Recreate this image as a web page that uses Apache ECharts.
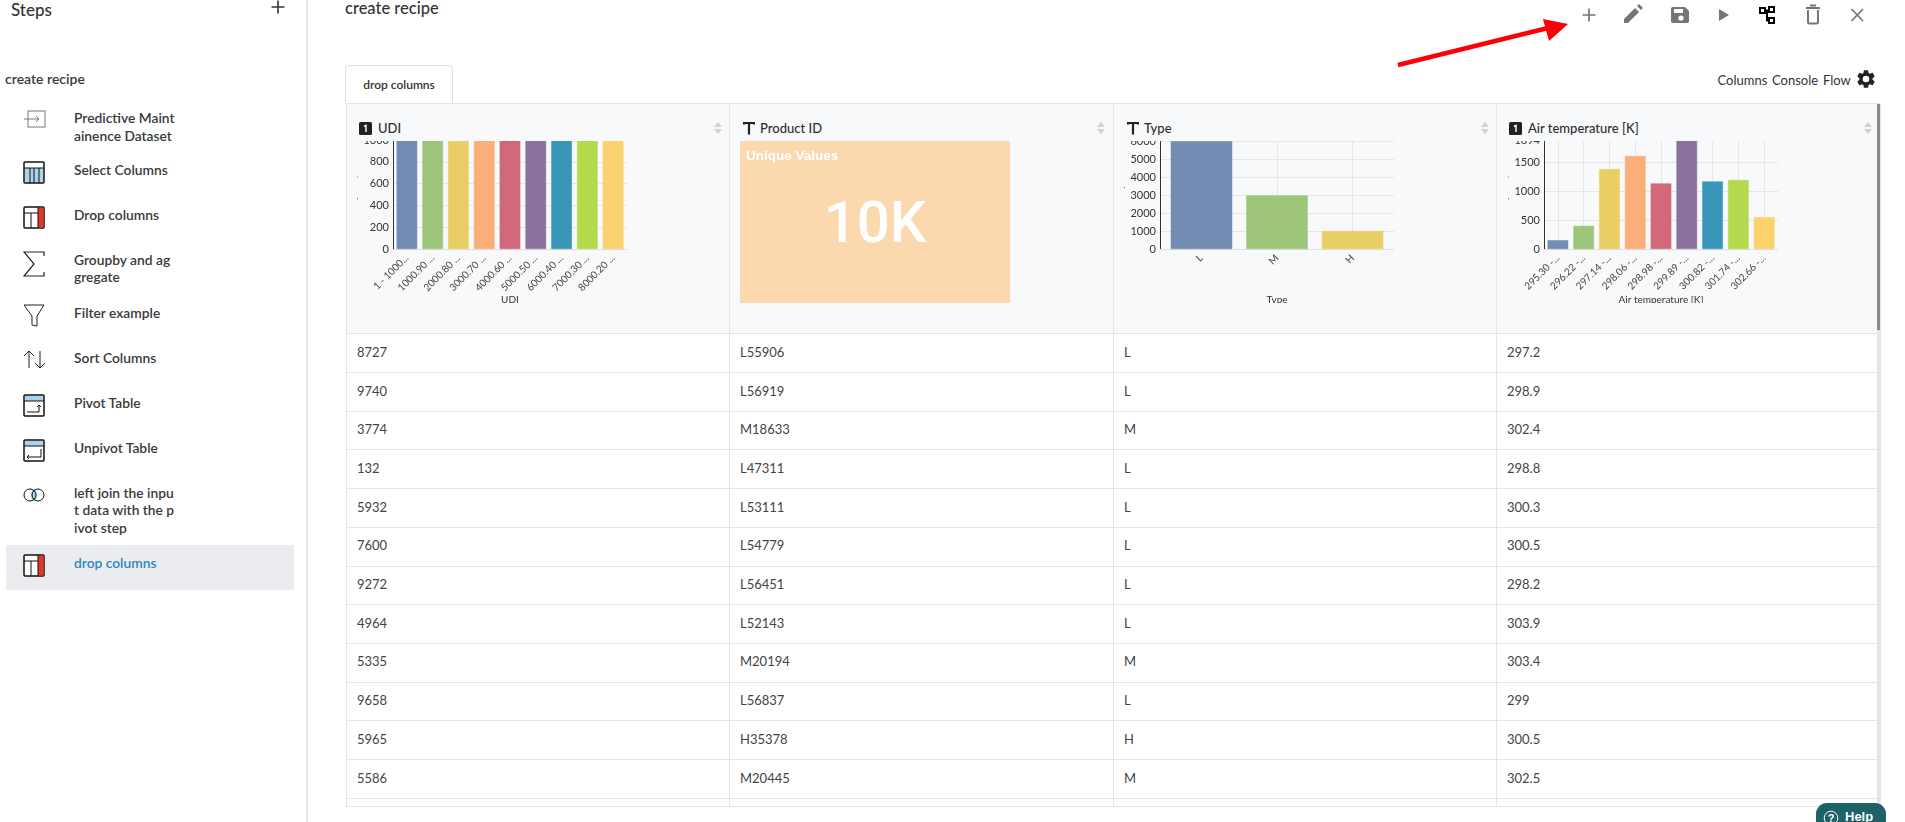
<!DOCTYPE html>
<html lang="en">
<head>
<meta charset="UTF-8">
<title>create recipe</title>
<script src="https://cdn.jsdelivr.net/npm/echarts@6/dist/echarts.min.js"></script>
<style>
html,body{margin:0;padding:0;width:1905px;height:822px;overflow:hidden;background:#fff;font-family:Lato,sans-serif;color:#333}
.abs{position:absolute;white-space:nowrap}
.step{position:absolute;left:74px;font-size:13.800px;font-weight:600;line-height:17.6px;color:#3a3a3a;white-space:pre}
.icon{position:absolute;left:23px}
.cell{position:absolute;font-size:13px;color:#444;white-space:nowrap}
.hline{position:absolute;left:346px;width:1534px;height:1px;background:#e4e5e7}
.vline{position:absolute;width:1px;background:#e4e5e7;top:103px;height:703px}
.head{position:absolute;top:119.500px;font-size:13px;font-weight:500;line-height:17px;color:#2f2f2f}
.sort{position:absolute;top:122px}
.chart{position:absolute;top:141px;width:270px;height:162px}
</style>
</head>
<body>

<!-- side panel -->
<div class="abs" style="left:11px;top:0;font-size:17px;font-weight:500;line-height:20px;color:#333">Steps</div>
<svg class="abs" style="left:271px;top:0" width="14" height="14"><path d="M7 0.5V13.5M0.5 7H13.5" stroke="#333" stroke-width="1.6"/></svg>
<div class="abs" style="left:306px;top:0;width:2px;height:822px;background:#e8e8e8"></div>
<div class="abs" style="left:5px;top:70px;font-size:14px;font-weight:600;line-height:17px;color:#3a3a3a">create recipe</div>
<div class="abs" style="left:6px;top:545px;width:288px;height:45px;background:#eaecef"></div>
<div id="steps"></div>

<!-- top bar -->
<div class="abs" style="left:345px;top:-2px;font-size:16.500px;font-weight:500;line-height:20px;color:#333">create recipe</div>
<svg class="abs" style="left:1582px;top:2px" width="14" height="24" fill="none" stroke="#757575"><path d="M7 6.500V19.500M0.500 13H13.500" stroke-width="1.700"/></svg>
<svg class="abs" style="left:1578px;top:2px" width="300" height="24" fill="none" stroke="#757575">
  <path d="M46 21v-4l11-11 4 4-11 11z" fill="#757575" stroke="none"/>
  <path d="M59 4l2-2 4 4-2 2z" fill="#757575" stroke="none"/>
  <path d="M95 5h12l4 4v10a2 2 0 0 1-2 2H95a2 2 0 0 1-2-2V7a2 2 0 0 1 2-2z" fill="#757575" stroke="none"/>
  <rect x="96" y="7" width="9" height="4" fill="#fff" stroke="none"/>
  <circle cx="103" cy="16" r="2.600" fill="#fff" stroke="none"/>
  <path d="M141 7l10 6-10 6z" fill="#757575" stroke="none"/>
  <g stroke="#000" stroke-width="2"><rect x="182" y="6" width="5" height="5"/><rect x="191" y="5" width="5" height="5"/><rect x="191" y="16" width="5" height="5"/><path d="M187 8.500h4M189 8.500V18.500H191"/></g>
  <path d="M230 8v12a1.500 1.500 0 0 0 1.500 1.500h7a1.500 1.500 0 0 0 1.500-1.500V8M228 6h14M232 3.500h6" stroke-width="2"/>
  <path d="M273.500 7l11.500 12M285 7l-11.500 12" stroke-width="1.700"/>
</svg>
<svg class="abs" style="left:1390px;top:15px" width="190" height="60">
  <path d="M8 50L158 13" stroke="#fb0007" stroke-width="4.500"/>
  <path d="M178 9L153 4L159 26z" fill="#fb0007"/>
</svg>
<div class="abs" style="left:1717.500px;top:72px;font-size:13px;line-height:17px;color:#333">Columns</div>
<div class="abs" style="left:1772px;top:72px;font-size:13px;line-height:17px;color:#333">Console</div>
<div class="abs" style="left:1823px;top:72px;font-size:13px;line-height:17px;color:#333">Flow</div>
<svg class="abs" style="left:1855px;top:68px" width="22" height="22" viewBox="0 0 24 24"><path fill="#222" d="M19.14 12.94a7.500 7.500 0 0 0 0-1.880l2.030-1.580a.5.5 0 0 0 .12-.64l-1.920-3.320a.5.5 0 0 0-.61-.22l-2.390.96a7 7 0 0 0-1.620-.94l-.36-2.540a.5.5 0 0 0-.5-.42H10.100a.5.5 0 0 0-.49.42l-.36 2.540a7 7 0 0 0-1.620.94l-2.390-.96a.5.5 0 0 0-.61.22L2.710 8.840a.5.5 0 0 0 .12.64l2.030 1.580a7.500 7.500 0 0 0 0 1.880l-2.030 1.580a.5.5 0 0 0-.12.64l1.920 3.320c.12.22.39.3.61.22l2.390-.96c.5.38 1.040.7 1.620.94l.36 2.540c.04.24.25.42.49.42h3.800c.24 0 .45-.18.49-.42l.36-2.540a7 7 0 0 0 1.620-.94l2.390.96c.22.08.49 0 .61-.22l1.920-3.320a.5.5 0 0 0-.12-.64zM12 15.600a3.600 3.600 0 1 1 0-7.200 3.600 3.600 0 0 1 0 7.200z"/></svg>

<!-- tab -->
<div class="abs" style="left:345px;top:65px;width:108px;height:38px;box-sizing:border-box;border:1px solid #dfe0e2;border-bottom:1px solid #fff;border-radius:4px 4px 0 0;background:#fff;text-align:center;font-size:12px;font-weight:600;line-height:38px;color:#333;z-index:2">drop columns</div>

<!-- table -->
<div class="abs" style="left:346px;top:103px;width:1534px;height:230px;background:#f8f9fb"></div>
<div class="hline" style="top:103px"></div>
<div class="abs" style="left:1877px;top:103px;width:4px;height:703px;background:#e6e6e6"></div>
<div class="abs" style="left:1877px;top:104px;width:4px;height:226px;background:#8a8a8a"></div>
<div id="table"></div>

<div class="chart" id="udiChart" style="left:357px"></div>
<div class="chart" id="cardChart" style="left:740px"></div>
<div class="chart" id="typeChart" style="left:1124px"></div>
<div class="chart" id="airChart" style="left:1507.700px"></div>

<!-- help button -->
<div class="abs" style="left:1816px;top:803px;width:70px;height:30px;border-radius:11px 11px 0 0;background:#1c6266;z-index:3;color:#fff;font:bold 13px 'Liberation Sans',sans-serif">
  <svg style="position:absolute;left:7px;top:7px" width="16" height="16"><circle cx="8" cy="8" r="6.800" fill="none" stroke="#fff" stroke-width="1"/><text x="8" y="12" text-anchor="middle" fill="#fff" font-size="11" font-family="Liberation Sans">?</text></svg>
  <span style="position:absolute;left:29px;top:6px">Help</span>
</div>

<script type="text/javascript">
// chart data
var palette = ['#728cb3','#9dc67b','#e9cf63','#fbae7a','#d1697b','#8a72a0','#3a96b8','#b5d94d','#fbd26e'];

var udiBins = ['1 - 1000...','1000.90 ...','2000.80 ...','3000.70 ...','4000.60 ...','5000.50 ...','6000.40 ...','7000.30 ...','8000.20 ...'];
var udiCounts = [1000,1000,1000,1000,1000,1000,1000,1000,1000];
var udiTicks = [0,200,400,600,800,1000];

var typeNames = ['L','M','H'];
var typeCounts = [6000,3000,1030];

var airBins = ['295.30 -...','296.22 -...','297.14 -...','298.06 -...','298.98 -...','299.89 -...','300.82 -...','301.74 -...','302.66 -...'];
var airCounts = [162,411,1395,1620,1146,1894,1180,1204,561];

// table rows
var colUdi = ['8727','9740','3774','132','5932','7600','9272','4964','5335','9658','5965','5586'];
var colProduct = ['L55906','L56919','M18633','L47311','L53111','L54779','L56451','L52143','M20194','L56837','H35378','M20445'];
var colType = ['L','L','M','L','L','L','L','L','M','L','H','M'];
var colAir = ['297.2','298.9','302.4','298.8','300.3','300.5','298.2','303.9','303.4','299','300.5','302.5'];

var colLines = [346,729,1113,1496,1880];
var headTitles = ['UDI','Product ID','Type','Air temperature [K]'];
var headIsText = [false,true,true,false];

var rowTop = 333.3, rowH = 38.7;
var html = '';
for (var l = 0; l < colLines.length; l++) {
    html += '<div class="vline" style="left:' + colLines[l] + 'px"></div>';
}
for (var r = 0; r <= 12; r++) {
    html += '<div class="hline" style="top:' + Math.round(rowTop + r * rowH) + 'px"></div>';
}
html += '<div class="hline" style="top:806px"></div>';
var cols = [colUdi,colProduct,colType,colAir];
for (var c = 0; c < 4; c++) {
    var x = colLines[c];
    // header: type icon, title and sort arrows
    if (headIsText[c]) {
        html += '<svg class="abs" style="left:' + (x + 14) + 'px;top:122px" width="12" height="13"><path d="M1 2.500V1H11V2.500M6 1V12.500" fill="none" stroke="#222" stroke-width="2.200"/></svg>';
    } else {
        html += '<svg class="abs" style="left:' + (x + 13) + 'px;top:122px" width="13" height="13"><rect width="13" height="13" rx="1.500" fill="#222"/><path d="M5 4.500L7 3.500V10" fill="none" stroke="#fff" stroke-width="1.400"/></svg>';
    }
    html += '<div class="head" style="left:' + (x + (headIsText[c] ? 31 : 32)) + 'px">' + headTitles[c] + '</div>';
    html += '<svg class="sort" style="left:' + (x + 368) + 'px" width="8" height="12"><path d="M4 0L8 5H0zM4 12L0 7H8z" fill="#d2d3d5"/></svg>';
    for (var i = 0; i < cols[c].length; i++) {
        html += '<div class="cell" style="left:' + (x + 11) + 'px;top:' + (rowTop + i * rowH + 10.500) + 'px">' + cols[c][i] + '</div>';
    }
}
document.getElementById('table').innerHTML = html;

// side panel steps
var icons = {
    input: '<rect x="5" y="1" width="17" height="16" fill="none" stroke="#777"/><path d="M1 9H16M13 6l3 3-3 3" fill="none" stroke="#777"/>',
    select: '<rect x="1" y="1" width="20" height="21" rx="1" fill="#fff" stroke="#111" stroke-width="1.500"/><rect x="2" y="7" width="18" height="14" fill="#a9d4ec"/><path d="M1 7H21M7 7V22M11 7V22M16 7V22" stroke="#111"/>',
    drop: '<rect x="1" y="1" width="20" height="21" rx="1" fill="#fff" stroke="#111" stroke-width="1.500"/><rect x="15" y="2" width="5.500" height="19.500" fill="#e8342a"/><path d="M1 7H15M8 7V22M15 1V22" stroke="#111"/>',
    sigma: '<path d="M21 6V2H1L11 14L1 26H21V22" fill="none" stroke="#222" stroke-width="1.200" transform="translate(0 -1)"/>',
    filter: '<path d="M1 1H21L14 12V22L9 21V12z" fill="none" stroke="#222"/>',
    sort: '<path d="M6 18V1M1 6l5-5 5 5M17 1V18M12 13l5 5 5-5" fill="none" stroke="#222"/>',
    pivot: '<rect x="1" y="1" width="20" height="21" rx="1" fill="#fff" stroke="#111" stroke-width="1.500"/><rect x="2" y="2" width="18" height="5" fill="#a9d4ec"/><path d="M1 7H21M4 18H16V11M14 13l2-2 2 2" fill="none" stroke="#111"/>',
    unpivot: '<rect x="1" y="1" width="20" height="21" rx="1" fill="#fff" stroke="#111" stroke-width="1.500"/><rect x="2" y="2" width="18" height="5" fill="#a9d4ec"/><path d="M1 7H21M18 10V18H4M6 16l-2 2 2 2" fill="none" stroke="#111"/>',
    join: '<ellipse cx="11" cy="7" rx="3" ry="6" fill="#a9d4ec"/><circle cx="7" cy="7" r="6" fill="none" stroke="#111"/><circle cx="15" cy="7" r="6" fill="none" stroke="#111"/>'
};
var stepLabels = ['Predictive Maint\nainence Dataset','Select Columns','Drop columns','Groupby and ag\ngregate','Filter example','Sort Columns','Pivot Table','Unpivot Table','left join the inpu\nt data with the p\nivot step','drop columns'];
var stepIcons = ['input','select','drop','sigma','filter','sort','pivot','unpivot','join','drop'];
var stepTops = [109,160.500,205.500,250.500,303.500,348.500,393.500,438.500,483.500,553.500];
var iconTops = [110,161,206,251,304,350,394,439,488,554];
var stepHtml = '';
for (var s = 0; s < stepLabels.length; s++) {
    var col = s === 9 ? ';color:#2e86c1' : '';
    stepHtml += '<svg class="icon" style="top:' + iconTops[s] + 'px" width="24" height="29">' + icons[stepIcons[s]] + '</svg>';
    stepHtml += '<div class="step" style="top:' + stepTops[s] + 'px' + col + '">' + stepLabels[s] + '</div>';
}
document.getElementById('steps').innerHTML = stepHtml;

// two grids: the outer one carries the value axis, the inner one is inset so bars sit off the axis
function histogram(id, cats, vals, cfg) {
    var chart = echarts.init(document.getElementById(id));
    var yLabel = {fontFamily: 'Lato', fontSize: 11, color: '#333', margin: 4, formatter: function (v) { return String(v); }};
    var data = [];
    for (var i = 0; i < vals.length; i++) {
        data.push({value: vals[i], itemStyle: {color: palette[i], borderColor: palette[i] + '80', borderWidth: 1}});
    }
    chart.setOption({
        animation: false,
        grid: [
            {left: 36, right: 0, top: cfg.top, bottom: 53.700, outerBoundsMode: 'none'},
            {left: 36 + cfg.inset, right: cfg.inset, top: cfg.top, bottom: 53.700, outerBoundsMode: 'none'}
        ],
        xAxis: [
            {gridIndex: 0, type: 'value', min: 0, max: 1, show: true, axisLabel: {show: false}, axisTick: {show: false}, splitLine: {show: false},
                axisLine: {show: true, onZero: false, lineStyle: {color: '#e0e0e0'}}},
            {gridIndex: 1, type: 'category', data: cats, name: cfg.name, nameLocation: 'middle', nameGap: 45, nameMoveOverlap: false,
                nameTextStyle: {fontFamily: 'Lato', fontSize: 10, color: '#333'},
                axisLabel: {interval: 0, rotate: 45, fontFamily: 'Lato', fontSize: 10, color: '#444', margin: 7},
                axisLine: {show: false}, axisTick: {show: false},
                splitLine: {show: true, interval: 0, alignWithLabel: true, lineStyle: {color: '#e6e6e6'}}}
        ],
        yAxis: [
            {gridIndex: 0, type: 'value', min: 0, max: cfg.max, interval: cfg.step, axisLabel: yLabel,
                name: cfg.yName, nameLocation: 'middle', nameGap: 35, nameRotate: 90, nameMoveOverlap: false,
                nameTextStyle: {fontFamily: 'Lato', fontSize: 9, color: cfg.yColor},
                axisLine: {show: true, lineStyle: {color: '#333'}}, axisTick: {show: false},
                splitLine: {show: true, lineStyle: {color: '#e6e6e6'}}},
            {gridIndex: 1, type: 'value', min: 0, max: cfg.max, show: false}
        ],
        series: [{type: 'bar', xAxisIndex: 1, yAxisIndex: 1, data: data, barWidth: '82%'}]
    });
}

histogram('udiChart', udiBins, udiCounts, {name: 'UDI', yName: 'Frequency', yColor: '#444', inset: 1, top: -1, max: udiTicks[udiTicks.length - 1], step: udiTicks[1]});
histogram('typeChart', typeNames, typeCounts, {name: 'Type', yName: 'Freq', yColor: '#3a7ab5', inset: 3.700, top: 0, max: 6000, step: 1000});
histogram('airChart', airBins, airCounts, {name: 'Air temperature [K]', yName: 'Frequency', yColor: '#444', inset: 1, top: -1, max: 1894, step: 500});

// Product ID has too many values for a histogram: number card only
var uniqueTitle = 'Unique Values';
var uniqueValue = '10K';
echarts.init(document.getElementById('cardChart')).setOption({
    animation: false,
    backgroundColor: '#fbd8ae',
    title: [
        {text: uniqueTitle, left: 1, top: 3, textStyle: {fontFamily: 'Liberation Sans', fontSize: 13.500, fontWeight: 'bold', color: '#fff'}},
        {text: uniqueValue, left: 'center', top: 52, textStyle: {fontFamily: 'Roboto', fontSize: 58, fontWeight: 500, color: '#fff'}}
    ]
});
</script>
</body>
</html>
